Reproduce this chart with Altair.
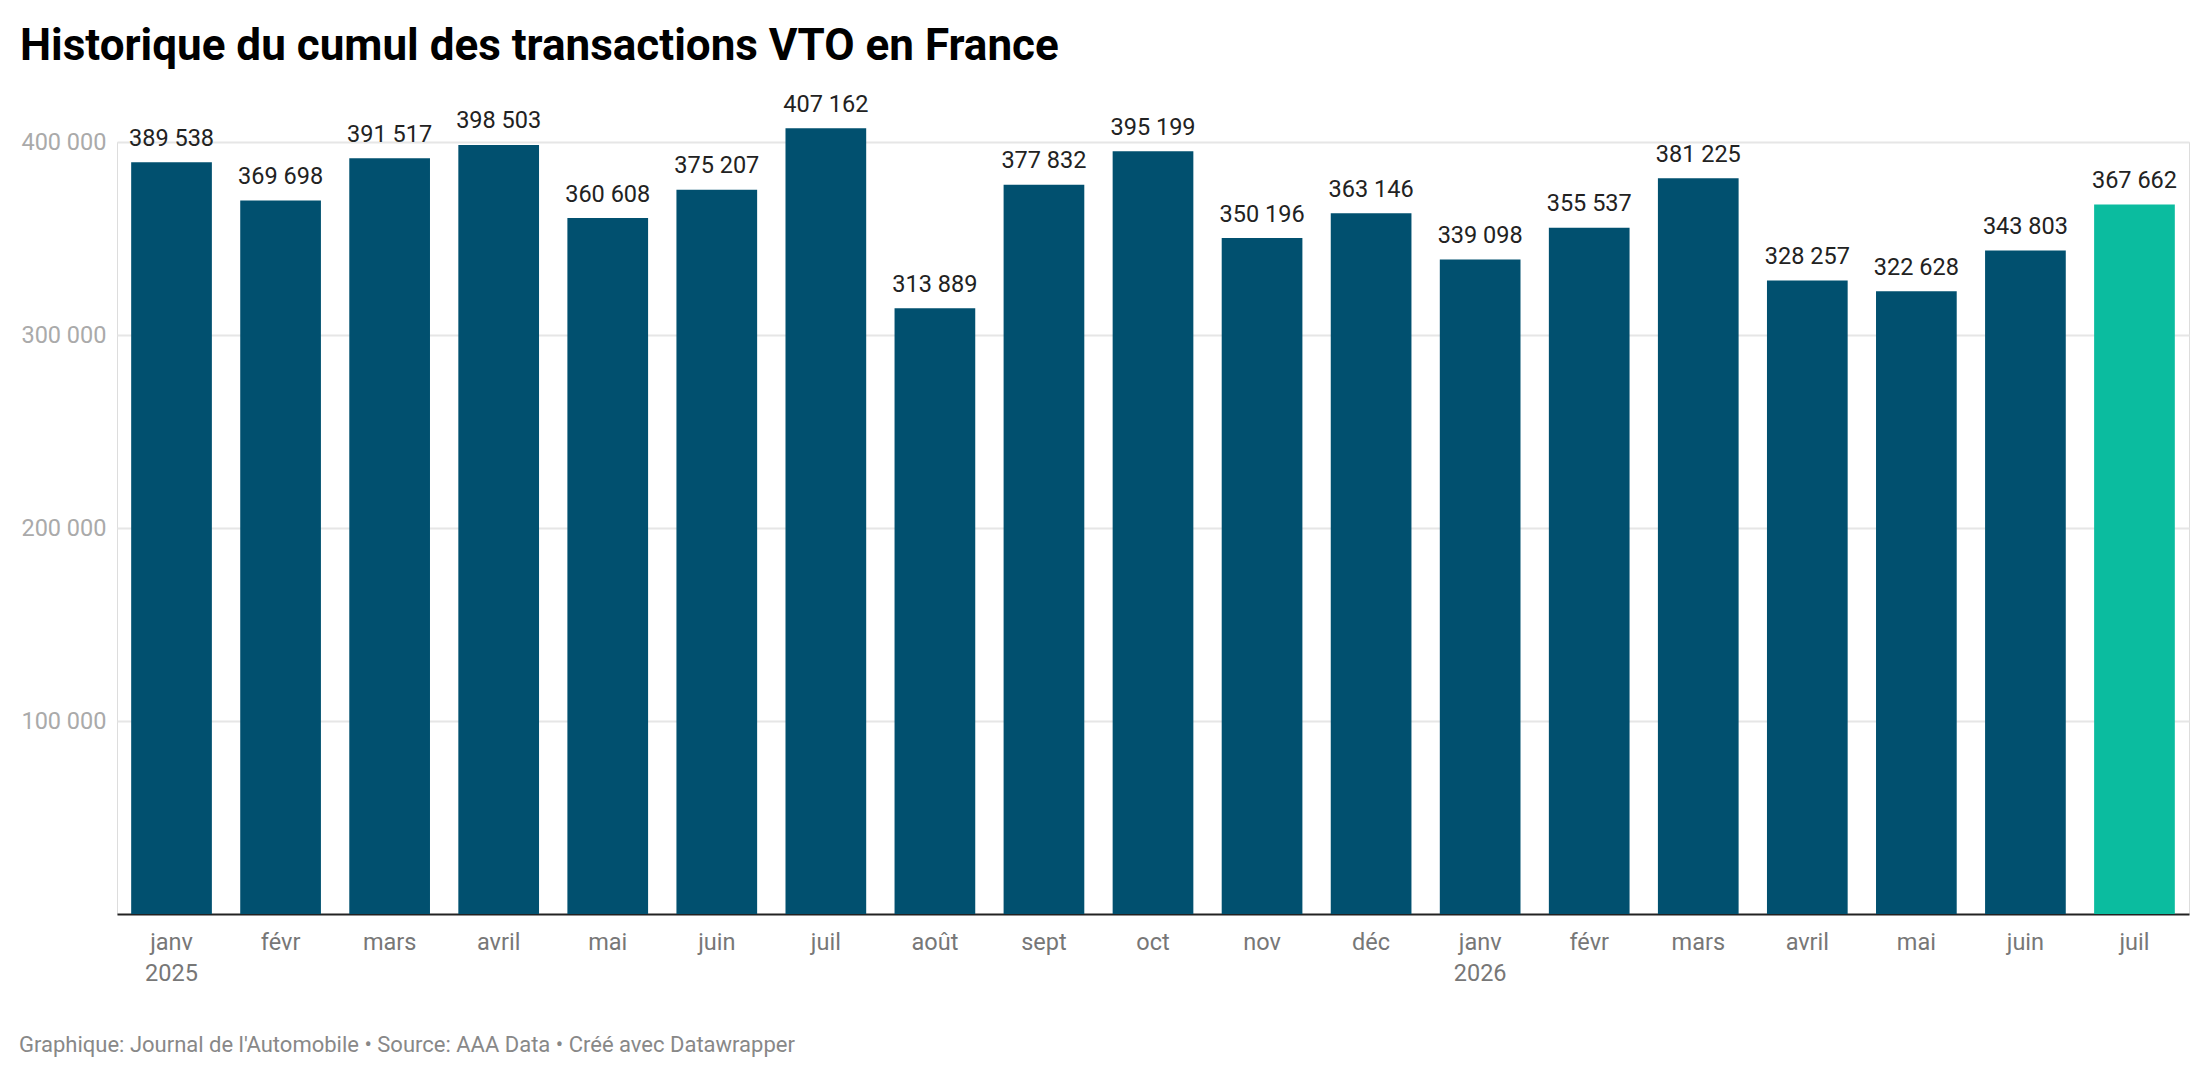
import altair as alt
import pandas as pd

months = ["janv", "févr", "mars", "avril", "mai", "juin", "juil", "août", "sept", "oct", "nov", "déc",
          "janv", "févr", "mars", "avril", "mai", "juin", "juil"]
years = [2025] * 12 + [2026] * 7
values = [389538, 369698, 391517, 398503, 360608, 375207, 407162, 313889, 377832, 395199,
          350196, 363146, 339098, 355537, 381225, 328257, 322628, 343803, 367662]
highlight = [False] * 18 + [True]

title_text = "Historique du cumul des transactions VTO en France"
footer_text = "Graphique: Journal de l'Automobile • Source: AAA Data • Créé avec Datawrapper"

keys = [f"{m} {y}" for m, y in zip(months, years)]
labels = [f"{v:,}".replace(",", " ") for v in values]
df = pd.DataFrame({"key": keys, "value": values, "label": labels, "hl": highlight})

W, H = 2072, 772
FONT = "Roboto"

x = alt.X("key:N", sort=keys, title=None,
          scale=alt.Scale(paddingInner=0.26, paddingOuter=0.13),
          axis=alt.Axis(labelAngle=0, labelFont=FONT, labelFontSize=23.5, labelColor="#777777",
                        labelExpr="split(datum.value,' ')[0] == 'janv' ? split(datum.value,' ') : split(datum.value,' ')[0]",
                        labelLineHeight=31, labelBaseline="alphabetic", labelPadding=35,
                        ticks=False, tickSize=0, domainColor="#222222", domainWidth=2,
                        grid=False))
y = alt.Y("value:Q", title=None,
          scale=alt.Scale(domain=[0, 400000], nice=False),
          axis=alt.Axis(values=[100000, 200000, 300000, 400000], labelFont=FONT, labelFontSize=23.5,
                        labelColor="#aaaaaa", labelPadding=11, ticks=False, tickSize=0, domain=False,
                        labelExpr="replace(format(datum.value, ','), ',', ' ')",
                        gridColor="#e6e6e6", gridWidth=2))

bars = alt.Chart(df).mark_bar(clip=False).encode(
    x=x, y=y,
    color=alt.Color("hl:N", scale=alt.Scale(domain=[False, True], range=["#01506f", "#0bbc9f"]), legend=None),
)
texts = alt.Chart(df).mark_text(font=FONT, fontSize=23.5, color="#222222", baseline="alphabetic", dy=-16.5).encode(
    x=alt.X("key:N", sort=keys), y="value:Q", text="label:N"
)
title = alt.Chart(alt.Data(values=[{"t": title_text}])).mark_text(
    font=FONT, fontSize=44, fontWeight="bold", color="#000000", align="left", baseline="alphabetic"
).encode(text="t:N", x=alt.value(-97), y=alt.value(-82))
footer = alt.Chart(alt.Data(values=[{"t": footer_text}])).mark_text(
    font=FONT, fontSize=22, color="#888888", align="left", baseline="alphabetic"
).encode(text="t:N", x=alt.value(-98), y=alt.value(910))

chart = alt.layer(bars, texts, title, footer).properties(
    width=W, height=H,
    autosize=alt.AutoSizeParams(type="none"),
    padding={"left": 109, "top": 134, "right": 6, "bottom": 160},
).configure_view(stroke="transparent", strokeWidth=0, strokeOpacity=0).configure(background="white")

chart.save("out.html", embed_options={"renderer": "svg", "actions": False})
